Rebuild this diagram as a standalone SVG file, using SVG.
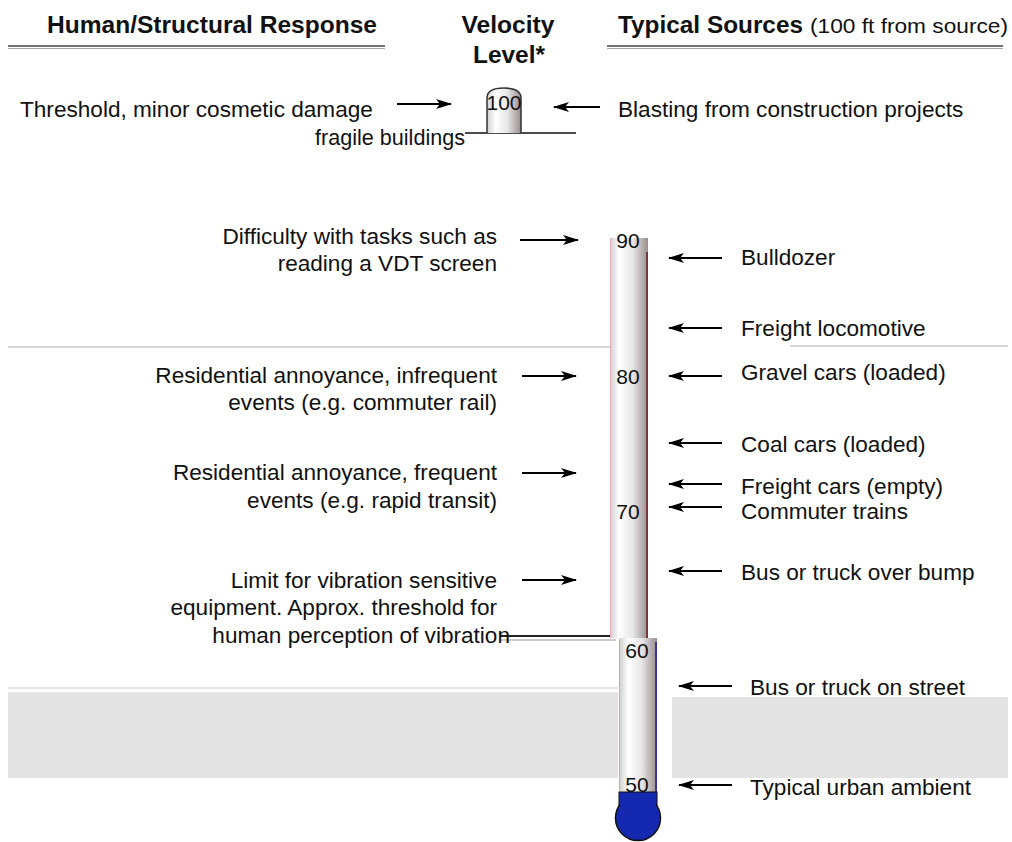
<svg xmlns="http://www.w3.org/2000/svg" width="1012" height="842" viewBox="0 0 1012 842">
<style>
  .t{font-family:"Liberation Sans",Arial,sans-serif;font-size:22.6px;fill:#111}
  .h{font-family:"Liberation Sans",Arial,sans-serif;font-size:24px;font-weight:bold;fill:#111}
  .s{font-family:"Liberation Sans",Arial,sans-serif;font-size:20px;fill:#111}
  .n{font-family:"Liberation Sans",Arial,sans-serif;font-size:21px;fill:#111;text-anchor:middle}
  .r{text-anchor:end}
  .ar{stroke:#000;stroke-width:2;fill:none;marker-end:url(#ah)}
  .rule{stroke:#444;stroke-width:1.5;fill:none}
</style>
<defs>
  <marker id="ah" markerWidth="16" markerHeight="10" refX="15" refY="5" orient="auto" markerUnits="userSpaceOnUse">
    <path d="M0,0 L16,5 L0,10 L4,5 Z" fill="#000"/>
  </marker>
  <linearGradient id="tube" x1="0" y1="0" x2="1" y2="0">
    <stop offset="0" stop-color="#cfcfcf"/>
    <stop offset="0.25" stop-color="#ffffff"/>
    <stop offset="0.6" stop-color="#e6e6e6"/>
    <stop offset="1" stop-color="#9a8c8c"/>
  </linearGradient>
</defs>
<rect width="1012" height="842" fill="#fff"/>

<!-- background bands / artifacts -->
<g id="background">
  <line x1="8" y1="347" x2="610" y2="347" stroke="#d6d6d6" stroke-width="2"/>
  <line x1="790" y1="346" x2="1008" y2="346" stroke="#d6d6d6" stroke-width="2"/>
  <line x1="8" y1="688" x2="618" y2="688" stroke="#dcdcdc" stroke-width="1.5"/>
  <rect x="8" y="692" width="610" height="86" fill="#e3e3e3"/>
  <rect x="672" y="697" width="336" height="81" fill="#e3e3e3"/>
  <line x1="465" y1="133" x2="576" y2="133" stroke="#111" stroke-width="1.5"/>
  <line x1="500" y1="636" x2="616" y2="636" stroke="#222" stroke-width="2"/>
  <line x1="500" y1="640" x2="616" y2="640" stroke="#bbb" stroke-width="1.5"/>
</g>

<!-- headers -->
<g id="header-left">
  <text class="h" x="47" y="33" textLength="330" lengthAdjust="spacingAndGlyphs">Human/Structural Response</text>
  <line class="rule" x1="8" y1="46" x2="385" y2="46"/>
  <line x1="8" y1="48.5" x2="385" y2="48.5" stroke="#aaa" stroke-width="1"/>
</g>
<g id="header-mid">
  <text class="h" x="508" y="33" text-anchor="middle" textLength="93" lengthAdjust="spacingAndGlyphs">Velocity</text>
  <text class="h" x="509" y="63" text-anchor="middle" textLength="72" lengthAdjust="spacingAndGlyphs">Level*</text>
</g>
<g id="header-right">
  <text class="h" x="618" y="33" textLength="185" lengthAdjust="spacingAndGlyphs">Typical Sources</text>
  <text class="s" x="810" y="33" textLength="198" lengthAdjust="spacingAndGlyphs">(100 ft from source)</text>
  <line class="rule" x1="607" y1="46" x2="1003" y2="46"/>
  <line x1="607" y1="48.5" x2="1003" y2="48.5" stroke="#aaa" stroke-width="1"/>
</g>

<!-- small thermometer 100 -->
<g id="level-100">
  <path d="M487,133 V98 Q487,88 504,88 Q521,88 521,98 V133" fill="url(#tube)" stroke="#333" stroke-width="1.5"/>
  <text class="n" x="504" y="110">100</text>
</g>

<!-- main thermometer -->
<g id="thermometer">
  <rect x="610" y="238" width="38" height="400" fill="url(#tube)"/>
  <line x1="610.5" y1="238" x2="610.5" y2="638" stroke="#e8b0b0" stroke-width="1"/>
  <line x1="647" y1="252" x2="647" y2="638" stroke="#6a1a1a" stroke-width="1.5"/>
  <rect x="619" y="638" width="38" height="160" fill="url(#tube)"/>
  <line x1="619.5" y1="640" x2="619.5" y2="790" stroke="#c8b848" stroke-width="1"/>
  <line x1="656" y1="642" x2="656" y2="798" stroke="#1a1aa0" stroke-width="1.5"/>
  <rect x="619" y="792" width="38" height="20" fill="#1428b0" stroke="#111" stroke-width="1"/>
  <circle cx="638" cy="818" r="22.5" fill="#1428b0" stroke="#111" stroke-width="1.5"/>
  <rect x="620" y="795" width="36" height="18" fill="#1428b0"/>
  <text class="n" x="628" y="248">90</text>
  <text class="n" x="628" y="384">80</text>
  <text class="n" x="628" y="519">70</text>
  <text class="n" x="637" y="658">60</text>
  <text class="n" x="637" y="792">50</text>
</g>

<!-- left labels -->
<g id="resp-threshold">
  <text class="t" x="20" y="117">Threshold, minor cosmetic damage</text>
  <text class="t" x="465" y="145" text-anchor="end" textLength="150" lengthAdjust="spacingAndGlyphs" fill="#2a1a55">fragile buildings</text>
</g>
<g id="resp-vdt">
  <text class="t r" x="497" y="244" fill="#444">Difficulty with tasks such as</text>
  <text class="t r" x="497" y="271">reading a VDT screen</text>
</g>
<g id="resp-infrequent">
  <text class="t r" x="497" y="383">Residential annoyance, infrequent</text>
  <text class="t r" x="497" y="410">events (e.g. commuter rail)</text>
</g>
<g id="resp-frequent">
  <text class="t r" x="497" y="480">Residential annoyance, frequent</text>
  <text class="t r" x="497" y="508">events (e.g. rapid transit)</text>
</g>
<g id="resp-limit">
  <text class="t r" x="497" y="588">Limit for vibration sensitive</text>
  <text class="t r" x="497" y="615">equipment.  Approx. threshold for</text>
  <text class="t r" x="510" y="643" fill="#3a2a66">human perception of vibration</text>
</g>

<!-- right labels -->
<g id="src-blasting"><text class="t" x="618" y="117">Blasting from construction projects</text></g>
<g id="src-bulldozer"><text class="t" x="741" y="265">Bulldozer</text></g>
<g id="src-locomotive"><text class="t" x="741" y="336">Freight locomotive</text></g>
<g id="src-gravel"><text class="t" x="741" y="380">Gravel cars (loaded)</text></g>
<g id="src-coal"><text class="t" x="741" y="452">Coal cars (loaded)</text></g>
<g id="src-freightempty"><text class="t" x="741" y="494" font-size="22">Freight cars (empty)</text></g>
<g id="src-commuter"><text class="t" x="741" y="519" font-size="22">Commuter trains</text></g>
<g id="src-bump"><text class="t" x="741" y="580">Bus or truck over bump</text></g>
<g id="src-street"><text class="t" x="750" y="695" textLength="215" lengthAdjust="spacingAndGlyphs">Bus or truck on street</text></g>
<g id="src-ambient"><text class="t" x="750" y="795" textLength="221" lengthAdjust="spacingAndGlyphs">Typical urban ambient</text></g>

<!-- connectors -->
<g id="connectors">
  <line class="ar" x1="397" y1="104" x2="451" y2="104"/>
  <line class="ar" x1="600" y1="107" x2="554" y2="107"/>
  <line class="ar" x1="520" y1="240" x2="578" y2="240"/>
  <line class="ar" x1="522" y1="376" x2="576" y2="376"/>
  <line class="ar" x1="522" y1="473" x2="576" y2="473"/>
  <line class="ar" x1="522" y1="580" x2="576" y2="580"/>
  <line class="ar" x1="722" y1="258" x2="669" y2="258"/>
  <line class="ar" x1="722" y1="328" x2="669" y2="328"/>
  <line class="ar" x1="722" y1="376" x2="669" y2="376"/>
  <line class="ar" x1="722" y1="443" x2="669" y2="443"/>
  <line class="ar" x1="722" y1="484" x2="669" y2="484"/>
  <line class="ar" x1="722" y1="507" x2="669" y2="507"/>
  <line class="ar" x1="722" y1="571" x2="669" y2="571"/>
  <line class="ar" x1="732" y1="686" x2="679" y2="686"/>
  <line class="ar" x1="732" y1="785" x2="679" y2="785"/>
</g>
</svg>
